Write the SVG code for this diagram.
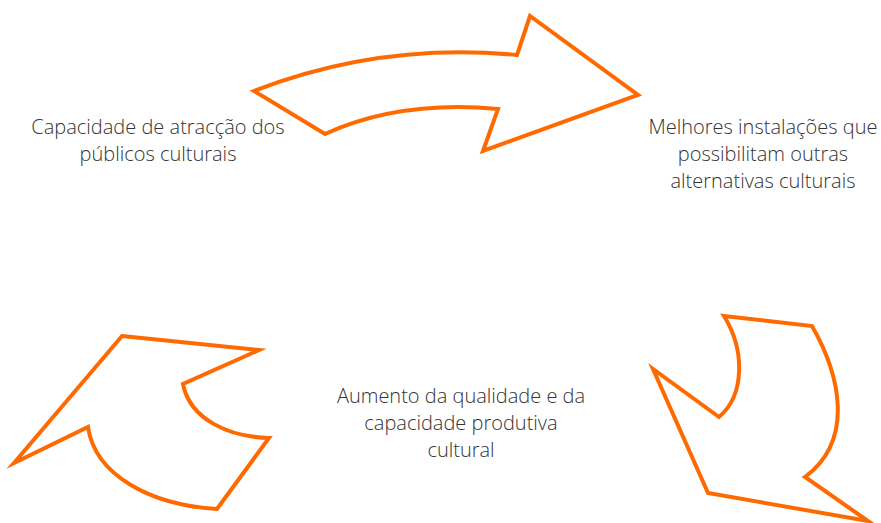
<svg xmlns="http://www.w3.org/2000/svg" width="881" height="523" viewBox="0 0 881 523">
<style>
.arr{fill:#fff;stroke:#ff6a00;stroke-width:4;stroke-linejoin:miter;stroke-miterlimit:10}
.t{font-family:"Open Sans","Noto Sans",sans-serif;font-size:20px;font-weight:300;fill:#333;text-anchor:middle}
</style>
<rect width="881" height="523" fill="#fff"/>
<g id="connectors">
<path id="arrow-top" class="arr" d="M254,91 Q380,42 517,55 L530,16 L638,95 L483,151 L498,109 Q400,100 325,134 Z"/>
<path id="arrow-right" class="arr" d="M724,316 L812,326 C840,375 855,440 805,477 L868,521 L708,493 L653,369 L719,417 C745,395 745,350 724,316 Z"/>
<path id="arrow-left" class="arr" d="M122,336 L259,350 L183,384 C190,420 230,437 269,438 L217,509 C150,505 95,475 88,427 L14,463 Z"/>
</g>
<g id="node-atraccao">
<text class="t" x="158" y="134">Capacidade de atracção dos</text>
<text class="t" x="158" y="161">públicos culturais</text>
</g>
<g id="node-instalacoes">
<text class="t" x="763" y="134">Melhores instalações que</text>
<text class="t" x="763" y="161">possibilitam outras</text>
<text class="t" x="763" y="188">alternativas culturais</text>
</g>
<g id="node-qualidade">
<text class="t" x="461" y="403">Aumento da qualidade e da</text>
<text class="t" x="461" y="430">capacidade produtiva</text>
<text class="t" x="461" y="457">cultural</text>
</g>
</svg>
